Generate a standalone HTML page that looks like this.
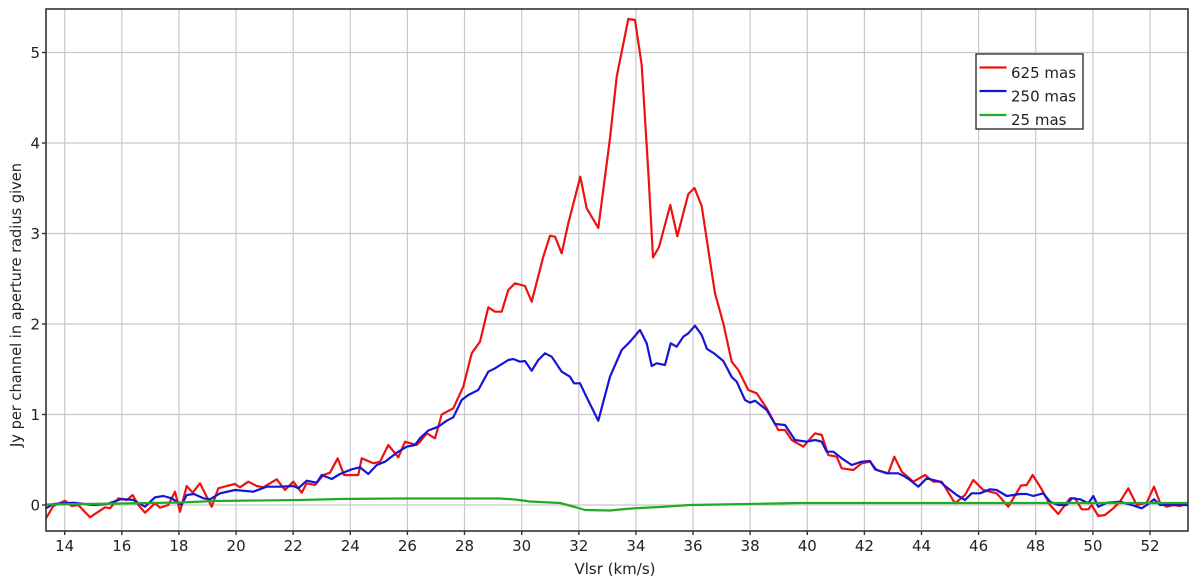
<!DOCTYPE html>
<html><head><meta charset="utf-8"><style>
html,body{margin:0;padding:0;background:#fff;}
svg{display:block;}
text{font-family:"DejaVu Sans","Liberation Sans",sans-serif;fill:#222;}
</style></head><body>
<svg width="1200" height="579" viewBox="0 0 1200 579" xmlns="http://www.w3.org/2000/svg">
<rect width="1200" height="579" fill="#fff"/>
<defs><clipPath id="c"><rect x="46" y="9" width="1142" height="522"/></clipPath></defs>
<g stroke="#c8c8c8" stroke-width="1.2">
<line x1="64.7" y1="9" x2="64.7" y2="531"/><line x1="121.8" y1="9" x2="121.8" y2="531"/><line x1="178.9" y1="9" x2="178.9" y2="531"/><line x1="236.1" y1="9" x2="236.1" y2="531"/><line x1="293.2" y1="9" x2="293.2" y2="531"/><line x1="350.3" y1="9" x2="350.3" y2="531"/><line x1="407.4" y1="9" x2="407.4" y2="531"/><line x1="464.5" y1="9" x2="464.5" y2="531"/><line x1="521.7" y1="9" x2="521.7" y2="531"/><line x1="578.8" y1="9" x2="578.8" y2="531"/><line x1="635.9" y1="9" x2="635.9" y2="531"/><line x1="693" y1="9" x2="693" y2="531"/><line x1="750.1" y1="9" x2="750.1" y2="531"/><line x1="807.3" y1="9" x2="807.3" y2="531"/><line x1="864.4" y1="9" x2="864.4" y2="531"/><line x1="921.5" y1="9" x2="921.5" y2="531"/><line x1="978.6" y1="9" x2="978.6" y2="531"/><line x1="1035.7" y1="9" x2="1035.7" y2="531"/><line x1="1092.9" y1="9" x2="1092.9" y2="531"/><line x1="1150" y1="9" x2="1150" y2="531"/>
<line x1="46" y1="505" x2="1188" y2="505"/><line x1="46" y1="414.5" x2="1188" y2="414.5"/><line x1="46" y1="324" x2="1188" y2="324"/><line x1="46" y1="233.5" x2="1188" y2="233.5"/><line x1="46" y1="143" x2="1188" y2="143"/><line x1="46" y1="52.5" x2="1188" y2="52.5"/>
</g>
<g clip-path="url(#c)" fill="none" stroke-width="2.2" stroke-linejoin="round">
<polyline stroke="#ee1111" points="46,518.3 53.3,506 65,500.7 71.7,506 78.3,505 90,517.3 105,507.3 110,508.3 118.3,498.3 126.7,500 132.7,495 138.3,505 145,512.7 155,503.3 160,507.7 168.3,505 175,491.7 180,511.7 186.7,486 192.7,492.7 200,483.3 206.7,496.7 211.7,506.7 218.3,488.3 226.7,486 235,484 240,487.3 248.3,481.7 256.7,486 263.3,487.3 276.7,479.3 285,490 293.3,481.7 301.7,492.7 306.7,483.3 315,485 323.3,475 330,472.7 337.7,458.3 344,475 358.3,475 361.7,458.3 373.3,463.3 380,461.7 388.3,445 398.3,457.3 405,441.7 416.7,445 420,441.7 426.7,433.3 435,438.3 441.7,414.5 453.3,408.3 463.3,386.7 471.7,353.3 480,341.7 488.3,307.3 495,311.7 501.7,311.7 508.3,290 515,283.3 525,286 531.7,301.7 543.3,256.7 550,235.7 555,236.7 561.7,253.3 568.3,223.3 580.3,176.7 586.7,208.3 598.3,228 610,138.3 616.7,76.7 628.3,19 635,20 641.7,65 648.3,171.7 653,257.5 659,247 670.3,205 677.3,236.3 688.3,194 694.5,188 701.7,206 710,261 715,293.3 723.3,323.3 731.7,361.7 738.3,370 748.3,390 756.7,393.3 766.7,408.3 778.3,430 785,430 791.7,440 803.3,446.7 815,433.3 821.7,435 828.3,455 836.7,456.7 841.7,468.3 853.3,470 861.7,463.3 870,461.7 876.7,470 888.3,473.3 894.3,456.7 901.7,471.7 913.3,481.7 925,475 933.3,481.7 941.7,481.7 955,503.3 965,495 973.3,480 983.3,490 996.7,493.3 1008.3,506.7 1021,485.5 1026.7,485 1032.7,475 1041.7,489.3 1050,505 1058.3,514 1070,498.3 1075,498.3 1081.7,509.3 1088.3,509.3 1091.7,505 1098.3,516 1105,515 1113.3,508.3 1120,501.7 1128.3,488.3 1136.7,505 1146.7,502.7 1154,486.7 1160,502.7 1166.7,506.7 1173.3,505 1180,506 1188,503.3"/>
<polyline stroke="#1515d8" points="46,508.3 53.3,504 73.3,502.7 93.3,505 106.7,504 121.7,499 133.3,500 145,506.7 155,497.3 163.3,496 171.7,498.3 181.7,505 186.7,495 194,494 203.3,498.3 210,499.3 220,493.3 235,490 253.3,491.7 266.7,486.7 280,486.7 293.3,486 298.3,488.3 306.7,480.7 316.7,482.7 321.7,475 331.7,479 340,474 351.7,469.3 360,467.3 368.3,474 376.7,465 385,461.7 396.7,452.7 406.7,446.7 415,445 420,438.3 428.3,430.5 438.3,426.7 446.7,420.7 453.3,417.3 461.7,400 468.3,395 478.3,390 488.3,371.7 495,368.3 508.3,360 513.3,359 520,361.7 525,361 531.7,370.7 538.3,360 545,353.3 551.7,356.7 561.7,371.7 570,376.7 574,383.3 580,383.3 586.7,397.3 598.3,420.7 610,376.7 621.7,350 630,341.7 640,330 646.7,343.3 651.7,366 656.7,363.3 665,365 670.7,343.3 676.7,346.7 683.3,336.7 688.3,333.3 695,325.7 701.7,335 707,349 714,353.3 723.3,361 731.7,377 736.7,381.7 745,400 750,402.7 755,400.7 766.7,410 775,424 785,425 795,440 806.7,441.7 815,440 821.7,441.7 826.7,451.7 833.3,451.7 841.7,458.3 851.7,465 861.7,461.7 870,461 875,469.3 886.7,473.3 898.3,473.3 905,476.7 910,480 918.3,486.7 926.7,478.3 940,481.7 946.7,487.3 956.7,495 965,500 971.7,493.3 980,493.3 990,489.3 996.7,490 1006.7,496 1020,494 1026.7,494 1033.3,496 1043.3,493.3 1050,501.7 1058.3,505 1066.7,505 1071.7,498.3 1080,499.3 1088.3,503.3 1093.3,496 1098.3,506.7 1106.7,502.7 1120,501.7 1131.7,505 1141.7,508.3 1148.3,504 1154,499.3 1160,505 1173.3,505 1188,505"/>
<polyline stroke="#22aa22" points="46,504.5 120,503.5 180,502.5 215,501 300,500 340,499 400,498.5 500,498.5 515,499.5 530,501.5 560,503 575,507 585,510 610,510.5 625,509 640,508 660,507 690,505 720,504.5 800,503 1000,503 1188,503"/>
</g>
<rect x="46" y="9" width="1142" height="522" fill="none" stroke="#333" stroke-width="1.6"/>
<g stroke="#333" stroke-width="1.4">
<line x1="42" y1="505" x2="46" y2="505"/><line x1="42" y1="414.5" x2="46" y2="414.5"/><line x1="42" y1="324" x2="46" y2="324"/><line x1="42" y1="233.5" x2="46" y2="233.5"/><line x1="42" y1="143" x2="46" y2="143"/><line x1="42" y1="52.5" x2="46" y2="52.5"/>
<line x1="64.7" y1="531" x2="64.7" y2="535"/><line x1="121.8" y1="531" x2="121.8" y2="535"/><line x1="178.9" y1="531" x2="178.9" y2="535"/><line x1="236.1" y1="531" x2="236.1" y2="535"/><line x1="293.2" y1="531" x2="293.2" y2="535"/><line x1="350.3" y1="531" x2="350.3" y2="535"/><line x1="407.4" y1="531" x2="407.4" y2="535"/><line x1="464.5" y1="531" x2="464.5" y2="535"/><line x1="521.7" y1="531" x2="521.7" y2="535"/><line x1="578.8" y1="531" x2="578.8" y2="535"/><line x1="635.9" y1="531" x2="635.9" y2="535"/><line x1="693" y1="531" x2="693" y2="535"/><line x1="750.1" y1="531" x2="750.1" y2="535"/><line x1="807.3" y1="531" x2="807.3" y2="535"/><line x1="864.4" y1="531" x2="864.4" y2="535"/><line x1="921.5" y1="531" x2="921.5" y2="535"/><line x1="978.6" y1="531" x2="978.6" y2="535"/><line x1="1035.7" y1="531" x2="1035.7" y2="535"/><line x1="1092.9" y1="531" x2="1092.9" y2="535"/><line x1="1150" y1="531" x2="1150" y2="535"/>
</g>
<g font-size="15" text-anchor="end">
<text x="40" y="510.5">0</text><text x="40" y="420">1</text><text x="40" y="329.5">2</text><text x="40" y="239">3</text><text x="40" y="148.5">4</text><text x="40" y="58">5</text>
</g>
<g font-size="15" text-anchor="middle">
<text x="64.7" y="551">14</text><text x="121.8" y="551">16</text><text x="178.9" y="551">18</text><text x="236.1" y="551">20</text><text x="293.2" y="551">22</text><text x="350.3" y="551">24</text><text x="407.4" y="551">26</text><text x="464.5" y="551">28</text><text x="521.7" y="551">30</text><text x="578.8" y="551">32</text><text x="635.9" y="551">34</text><text x="693" y="551">36</text><text x="750.1" y="551">38</text><text x="807.3" y="551">40</text><text x="864.4" y="551">42</text><text x="921.5" y="551">44</text><text x="978.6" y="551">46</text><text x="1035.7" y="551">48</text><text x="1092.9" y="551">50</text><text x="1150" y="551">52</text>
<text x="615" y="574">Vlsr (km/s)</text>
</g>
<text font-size="15" text-anchor="middle" transform="translate(21,305) rotate(-90)" textLength="284" lengthAdjust="spacingAndGlyphs">Jy per channel in aperture radius given</text>
<rect x="976" y="54" width="107" height="75" fill="#fff" stroke="#222" stroke-width="1.3"/>
<line x1="979.5" y1="67.5" x2="1006.5" y2="67.5" stroke="#ee1111" stroke-width="2.2"/>
<line x1="979.5" y1="91" x2="1006.5" y2="91" stroke="#1515d8" stroke-width="2.2"/>
<line x1="979.5" y1="115" x2="1006.5" y2="115" stroke="#22aa22" stroke-width="2.2"/>
<g font-size="15">
<text x="1011" y="78">625 mas</text>
<text x="1011" y="101.5">250 mas</text>
<text x="1011" y="125">25 mas</text>
</g>
</svg>
</body></html>
